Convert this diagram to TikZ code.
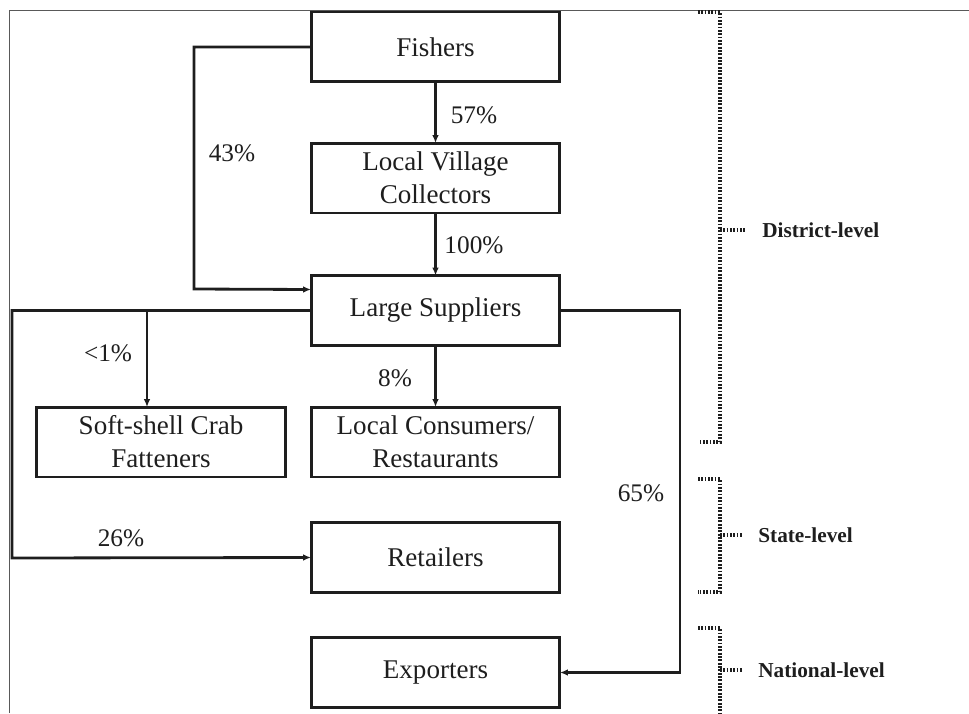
\documentclass[tikz,border=0pt]{standalone}
\usepackage{fontspec}
\setmainfont{Liberation Serif}
\usetikzlibrary{arrows.meta}
\definecolor{ink}{HTML}{1E1E1E}
\tikzset{
  box/.style={draw=ink, line width=1.7pt, minimum width=4.98cm, minimum height=1.4cm,
    inner sep=0pt, outer sep=0pt, align=center, text=ink,
    font=\fontsize{15.4}{18.8}\selectfont},
  flow/.style={draw=ink, line width=1.6pt, -{Latex[length=4.5pt,width=3.8pt]}},
  pct/.style={font=\fontsize{14.4}{17}\selectfont, text=ink, inner sep=0pt},
  level/.style={font=\fontsize{12.1}{14}\selectfont\bfseries, text=ink, anchor=west, inner sep=0pt},
  bracket/.style={draw=ink, line width=1.9pt, dash pattern=on 1pt off 0.9pt},
}
\begin{document}
\begin{tikzpicture}[x=0.02cm, y=-0.02cm]
    \useasboundingbox (0,0) rectangle (969,713);
    % frame
    \draw[gray!70!black, line width=0.5pt] (9,713) -- (9,10) -- (969,10);

    % boxes
    \node[box] (fishers) at (435.5,47) {Fishers};
    \node[box] (collect) at (435.5,178) {Local Village\\Collectors};
    \node[box] (supply) at (435.5,310.5) {Large Suppliers};
    \node[box, minimum width=5cm] (crab) at (161,442) {Soft-shell Crab\\Fatteners};
    \node[box] (consume) at (435.5,442) {Local Consumers/\\Restaurants};
    \node[box] (retail) at (435.5,557.5) {Retailers};
    \node[box] (export) at (435.5,672.5) {Exporters};

    % flows
    \draw[flow] (fishers.south) -- (collect.north);
    \draw[flow] (collect.south) -- (supply.north);
    \draw[flow] (fishers.west) -| (194,289) -- ([yshift=0.42cm]supply.west);
    \draw[flow] (supply.west) -| (12,558) -- (retail.west);
    \coordinate (fork) at (147,310.5);
    \draw[flow] (fork) -- (fork |- crab.north);
    \draw[flow] (supply.south) -- (consume.north);
    \draw[flow] (supply.east) -| (680,600) |- (export.east);

    % shares
    \node[pct] (p57) at (474,115) {57\%};
    \node[pct] (p100) at (474,245) {100\%};
    \node[pct] (p43) at (232,153) {43\%};
    \node[pct] (p1) at (108,353) {<1\%};
    \node[pct] (p8) at (395,378) {8\%};
    \node[pct] (p26) at (121,538) {26\%};
    \node[pct] (p65) at (641,493) {65\%};

    % levels
    \draw[bracket] (698,12) -- (720,12) -- (720,442) -- (698,442);
    \draw[bracket] (720,230) -- (745,230);
    \node[level] (district) at (762,230) {District-level};
    \draw[bracket] (698,479) -- (720,479) -- (720,592) -- (698,592);
    \draw[bracket] (720,535) -- (742,535);
    \node[level] (state) at (758,535) {State-level};
    \draw[bracket] (698,628) -- (720,628) -- (720,713);
    \draw[bracket] (720,670) -- (742,670);
    \node[level] (national) at (758,670) {National-level};
\end{tikzpicture}
\end{document}
